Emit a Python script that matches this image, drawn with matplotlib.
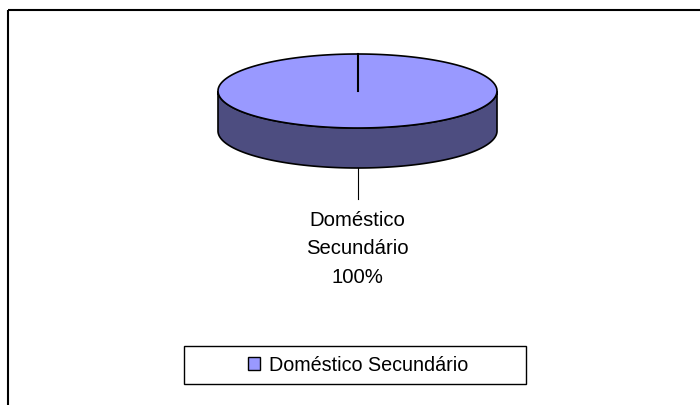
import matplotlib.pyplot as plt
from matplotlib.patches import Polygon, Rectangle, Patch
import numpy as np

plt.rcParams['font.family'] = ['Liberation Sans', 'DejaVu Sans']

# dados
categorias = ['Doméstico Secundário']
rotulos = ['Doméstico\nSecundário']
valores = [100.0]
cores_topo = ['#9999FF']
cores_lado = ['#4D4D80']

fig = plt.figure(figsize=(7, 4.06), dpi=100)
ax = fig.add_axes([0, 0, 1, 1])
ax.set_xlim(0, 700)
ax.set_ylim(406, 0)
ax.axis('off')

# moldura do gráfico
ax.add_patch(Rectangle((8, 11), 720, 420, fill=False, ec='black', lw=1.5))

# geometria da pizza 3D (pixels)
cx, cy, rx, ry, prof = 357.5, 92, 139.5, 37, 40


def ponto(t, dy=0):
    return cx + rx * np.sin(t), cy - ry * np.cos(t) + dy


total = sum(valores)
fracs = [v / total for v in valores]
inicio = np.cumsum([0] + fracs[:-1]) * 2 * np.pi
fim = inicio + np.array(fracs) * 2 * np.pi

# lados (só a metade da frente aparece)
for a, b, cor in zip(inicio, fim, cores_lado):
    lo, hi = max(a, np.pi / 2), min(b, 3 * np.pi / 2)
    if hi > lo:
        t = np.linspace(lo, hi, 200)
        x, y = ponto(t)
        xs = np.concatenate([x, x[::-1]])
        ys = np.concatenate([y, y[::-1] + prof])
        ax.add_patch(Polygon(np.column_stack([xs, ys]), closed=True,
                             fc=cor, ec='black', lw=1.2))

# topo
for a, b, cor in zip(inicio, fim, cores_topo):
    t = np.linspace(a, b, 400)
    x, y = ponto(t)
    if b - a < 2 * np.pi - 1e-9:
        x = np.concatenate([[cx], x])
        y = np.concatenate([[cy], y])
    ax.add_patch(Polygon(np.column_stack([x, y]), closed=True,
                         fc=cor, ec='black', lw=1.2))
    x0, y0 = ponto(a)
    ax.plot([cx, x0], [cy, y0], color='black', lw=1.5)

# rótulos com linha de chamada
for a, b, rot, f in zip(inicio, fim, rotulos, fracs):
    m = (a + b) / 2
    x0, y0 = ponto(m, prof if np.cos(m) < 0 else 0)
    ax.plot([x0, x0], [y0, y0 + 31], color='black', lw=0.8)
    ax.text(x0, y0 + 42, f'{rot}\n{f * 100:.0f}%', ha='center', va='top',
            fontsize=14.6, linespacing=1.63)

# legenda
ax.add_patch(Rectangle((184, 347), 342, 38, fill=False, ec='black', lw=1))
alcas = [Patch(fc=c, ec='black', lw=1) for c in cores_topo]
ax.legend(alcas, categorias, loc='center', bbox_to_anchor=(358 / 700, 1 - 366 / 406),
          frameon=False, fontsize=14.2, handlelength=0.65, handleheight=0.65,
          handletextpad=0.45)

fig.savefig('out.png', dpi=100)
